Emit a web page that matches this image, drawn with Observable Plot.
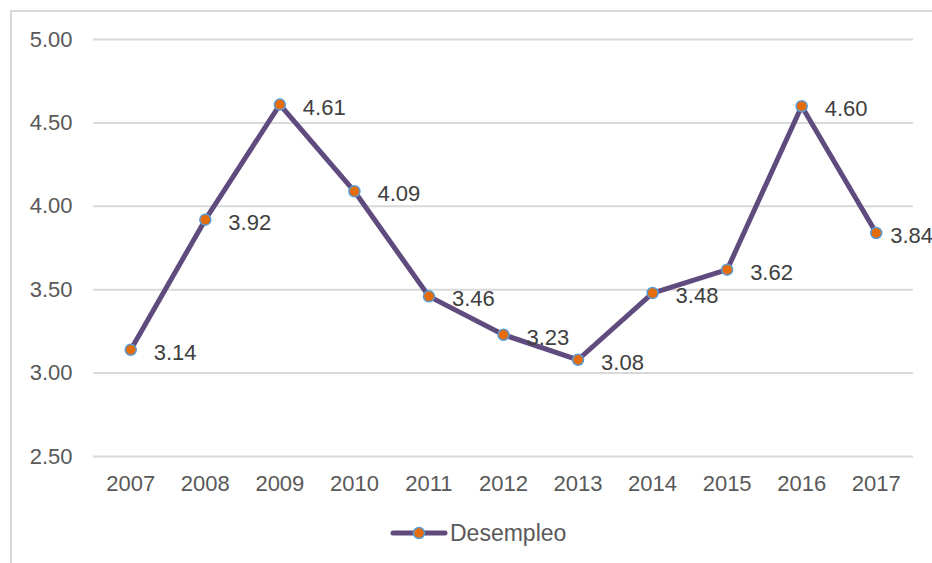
<!DOCTYPE html>
<html>
<head>
<meta charset="utf-8">
<script src="https://cdn.jsdelivr.net/npm/d3@7"></script>
<script src="https://cdn.jsdelivr.net/npm/@observablehq/plot@0.6"></script>
<style>
  html, body { margin: 0; padding: 0; background: #fff; overflow: hidden; }
  body { width: 932px; height: 563px; position: relative; font-family: "Liberation Sans", Arial, sans-serif; }
  #frame { position: absolute; left: 10px; top: 10px; width: 960px; height: 600px; border-left: 2px solid #d9d9d9; border-top: 2px solid #d9d9d9; box-sizing: border-box; }
  #chart { position: absolute; left: 0; top: 0; }
  #legend { position: absolute; left: 390px; top: 520px; height: 26px; display: flex; align-items: center; font-size: 23px; color: #595959; }
  #legend svg { margin-right: 2px; }
</style>
</head>
<body>
<div id="frame"></div>
<div id="chart"></div>
<div id="legend"></div>
<script>
const years = ["2007","2008","2009","2010","2011","2012","2013","2014","2015","2016","2017"];
const desempleo = [3.14, 3.92, 4.61, 4.09, 3.46, 3.23, 3.08, 3.48, 3.62, 4.60, 3.84];
const yTicks = [2.5, 3.0, 3.5, 4.0, 4.5, 5.0];
const seriesName = "Desempleo";

const lineColor = "#5f4b7d";
const dotFill = "#e46c0a";
const dotStroke = "#5b9bd5";

const data = years.map((y, i) => ({year: y, value: desempleo[i]}));
const lastIdx = data.length - 1;

const chart = Plot.plot({
  width: 932,
  height: 510,
  marginLeft: 93,
  marginRight: 19,
  marginTop: 39,
  marginBottom: 54,
  style: {fontFamily: "'Liberation Sans', Arial, sans-serif", fontSize: "22px", color: "#595959", background: "transparent", overflow: "visible"},
  x: {type: "point", domain: years, padding: 0.5, round: false, label: null},
  y: {domain: [2.5, 5.0], label: null},
  marks: [
    Plot.ruleY(yTicks, {stroke: "#d9d9d9", strokeWidth: 2}),
    Plot.axisY({ticks: yTicks, tickFormat: d => d.toFixed(2), tickSize: 0, tickPadding: 21, label: null, fill: "#595959", fontSize: 22}),
    Plot.axisX({tickSize: 0, tickPadding: 19, label: null, fill: "#595959", fontSize: 22}),
    Plot.line(data, {x: "year", y: "value", stroke: lineColor, strokeWidth: 5}),
    Plot.dot(data, {x: "year", y: "value", r: 5.5, fill: dotFill, stroke: dotStroke, strokeWidth: 1.5}),
    Plot.text(data.slice(0, lastIdx), {x: "year", y: "value", text: d => d.value.toFixed(2), textAnchor: "start", dx: 23, dy: 3, fill: "#404040", fontSize: 22}),
    Plot.text(data.slice(lastIdx), {x: "year", y: "value", text: d => d.value.toFixed(2), textAnchor: "start", dx: 14, dy: 3, fill: "#404040", fontSize: 22})
  ]
});
document.getElementById("chart").appendChild(chart);

const legend = document.getElementById("legend");
legend.innerHTML = `<svg width="58" height="20"><line x1="3" y1="10" x2="55" y2="10" stroke="${lineColor}" stroke-width="5" stroke-linecap="round"/><circle cx="29" cy="10" r="5.5" fill="${dotFill}" stroke="${dotStroke}" stroke-width="1.5"/></svg><span>${seriesName}</span>`;
</script>
</body>
</html>
